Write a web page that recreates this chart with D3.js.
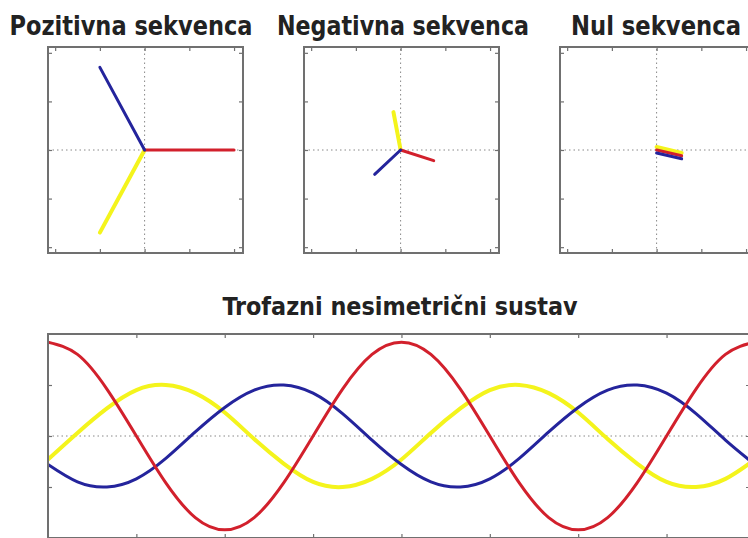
<!DOCTYPE html>
<html>
<head>
<meta charset="utf-8">
<script src="https://cdn.jsdelivr.net/npm/d3@7"></script>
<style>
  body { margin: 0; background: #fff; }
  svg { display: block; }
  .title { font-family: "DejaVu Sans Condensed", "DejaVu Sans", sans-serif; font-weight: bold; fill: #222; }
</style>
</head>
<body>
<div id="chart"></div>
<script>
// phase order: red, yellow, blue
const phaseColors = ["#d2202c", "#f4f41c", "#24249c"];

const positiveRe = [1.0, -0.5, -0.5];
const positiveIm = [0.0, -0.85, 0.85];
const negativeRe = [0.37, -0.08, -0.29];
const negativeIm = [-0.11, 0.39, -0.25];
const zeroRe = [0.28, 0.28, 0.28];
const zeroIm = [-0.06, -0.06, -0.06];

const panelTitles = ["Pozitivna sekvenca", "Negativna sekvenca", "Nul sekvenca"];
const waveTitle = "Trofazni nesimetrični sustav";

// waveform samples, angle in degrees
const angles = [0, 30, 60, 90, 120, 150, 180, 210, 240, 270, 300, 330, 360,
  390, 420, 450, 480, 510, 540, 570, 600, 630, 660, 690, 720];
const redWave = [0.92, 0.80, 0.46, 0.0, -0.46, -0.80, -0.92, -0.80, -0.46, 0.0, 0.46, 0.80, 0.92,
  0.80, 0.46, 0.0, -0.46, -0.80, -0.92, -0.80, -0.46, 0.0, 0.46, 0.80, 0.92];
const yellowWave = [-0.23, 0.03, 0.27, 0.45, 0.50, 0.42, 0.23, -0.03, -0.27, -0.45, -0.50, -0.42, -0.23,
  0.03, 0.27, 0.45, 0.50, 0.42, 0.23, -0.03, -0.27, -0.45, -0.50, -0.42, -0.23];
const blueWave = [-0.28, -0.45, -0.50, -0.42, -0.22, 0.04, 0.28, 0.45, 0.50, 0.42, 0.22, -0.04, -0.28,
  -0.45, -0.50, -0.42, -0.22, 0.04, 0.28, 0.45, 0.50, 0.42, 0.22, -0.04, -0.28];

const phasorTicks = [-1, -0.5, 0, 0.5, 1];
const waveXTicks = [90, 180, 270, 360, 450, 540, 630];
const waveYTicks = [-0.5, 0, 0.5];

const width = 748, height = 538;
const frameColor = "#707070";
const gridColor = "#888";

const svg = d3.select("#chart").append("svg")
  .attr("width", width)
  .attr("height", height);

function frame(g, x0, y0, w, h) {
  g.append("rect")
    .attr("x", x0).attr("y", y0)
    .attr("width", w).attr("height", h)
    .attr("fill", "none")
    .attr("stroke", frameColor)
    .attr("stroke-width", 2);
}

function innerTicks(g, x, y, xTicks, yTicks) {
  const [x0, x1] = x.range();
  const [y1, y0] = y.range();
  g.append("g").attr("transform", `translate(0,${y0})`)
    .call(d3.axisTop(x).tickValues(xTicks).tickSize(-4).tickFormat(""));
  g.append("g").attr("transform", `translate(0,${y1})`)
    .call(d3.axisBottom(x).tickValues(xTicks).tickSize(-4).tickFormat(""));
  g.append("g").attr("transform", `translate(${x0},0)`)
    .call(d3.axisLeft(y).tickValues(yTicks).tickSize(-4).tickFormat(""));
  g.append("g").attr("transform", `translate(${x1},0)`)
    .call(d3.axisRight(y).tickValues(yTicks).tickSize(-4).tickFormat(""));
  g.selectAll(".domain").remove();
  g.selectAll(".tick line").attr("stroke", frameColor).attr("stroke-width", 1.2);
}

// ---- phasor panels ----
const panelLeft = [48, 304, 560];
const panelTop = 47, panelW = 195, panelH = 206;
const titleX = [131, 403, 656];
const titleLen = [243, 252, 170];
const sequences = [
  { re: positiveRe, im: positiveIm, offset: [0, 0, 0] },
  { re: negativeRe, im: negativeIm, offset: [0, 0, 0] },
  { re: zeroRe, im: zeroIm, offset: [0, -3, 3] }
];
// draw order yellow, red, blue so the stacked zero sequence reads like the picture
const drawOrder = [1, 0, 2];

sequences.forEach((seq, p) => {
  const g = svg.append("g");
  const x = d3.scaleLinear().domain([-1.08, 1.1]).range([panelLeft[p], panelLeft[p] + panelW]);
  const y = d3.scaleLinear().domain([-1.06, 1.06]).range([panelTop + panelH, panelTop]);

  g.append("line")
    .attr("x1", x.range()[0]).attr("x2", x.range()[1])
    .attr("y1", y(0)).attr("y2", y(0))
    .attr("stroke", gridColor).attr("stroke-dasharray", "1.5,3");
  g.append("line")
    .attr("x1", x(0)).attr("x2", x(0))
    .attr("y1", y.range()[0]).attr("y2", y.range()[1])
    .attr("stroke", gridColor).attr("stroke-dasharray", "1.5,3");

  innerTicks(g, x, y, phasorTicks, phasorTicks);

  drawOrder.forEach((i) => {
    const off = seq.offset[i];
    g.append("line")
      .attr("x1", x(0)).attr("y1", y(0) + off)
      .attr("x2", x(seq.re[i])).attr("y2", y(seq.im[i]) + off)
      .attr("stroke", phaseColors[i])
      .attr("stroke-width", i === 1 ? 4 : 3)
      .attr("stroke-linecap", "round");
  });

  frame(g, panelLeft[p], panelTop, panelW, panelH);

  svg.append("text")
    .attr("class", "title")
    .attr("x", titleX[p]).attr("y", 35)
    .attr("text-anchor", "middle")
    .attr("font-size", 26)
    .attr("textLength", titleLen[p])
    .attr("lengthAdjust", "spacingAndGlyphs")
    .text(panelTitles[p]);
});

// ---- waveform ----
const wave = svg.append("g");
const wx = d3.scaleLinear().domain([0, 715]).range([48, 750]);
const wy = d3.scaleLinear().domain([-1, 1]).range([538, 334]);

svg.append("defs").append("clipPath").attr("id", "waveClip")
  .append("rect")
  .attr("x", 48).attr("y", 334)
  .attr("width", 702).attr("height", 204);

wave.append("line")
  .attr("x1", wx.range()[0]).attr("x2", wx.range()[1])
  .attr("y1", wy(0)).attr("y2", wy(0))
  .attr("stroke", gridColor).attr("stroke-dasharray", "1.5,3");

innerTicks(wave, wx, wy, waveXTicks, waveYTicks);

const line = d3.line()
  .x((d, i) => wx(angles[i]))
  .y((d) => wy(d))
  .curve(d3.curveNatural);

const series = [redWave, yellowWave, blueWave];
const curves = wave.append("g").attr("clip-path", "url(#waveClip)");
[1, 2, 0].forEach((i) => {
  curves.append("path")
    .datum(series[i])
    .attr("d", line)
    .attr("fill", "none")
    .attr("stroke", phaseColors[i])
    .attr("stroke-width", i === 1 ? 4 : 3);
});

frame(wave, 48, 334, 702, 204);

svg.append("text")
  .attr("class", "title")
  .attr("x", 400).attr("y", 315)
  .attr("text-anchor", "middle")
  .attr("font-size", 25)
  .attr("textLength", 355)
  .attr("lengthAdjust", "spacingAndGlyphs")
  .text(waveTitle);
</script>
</body>
</html>
